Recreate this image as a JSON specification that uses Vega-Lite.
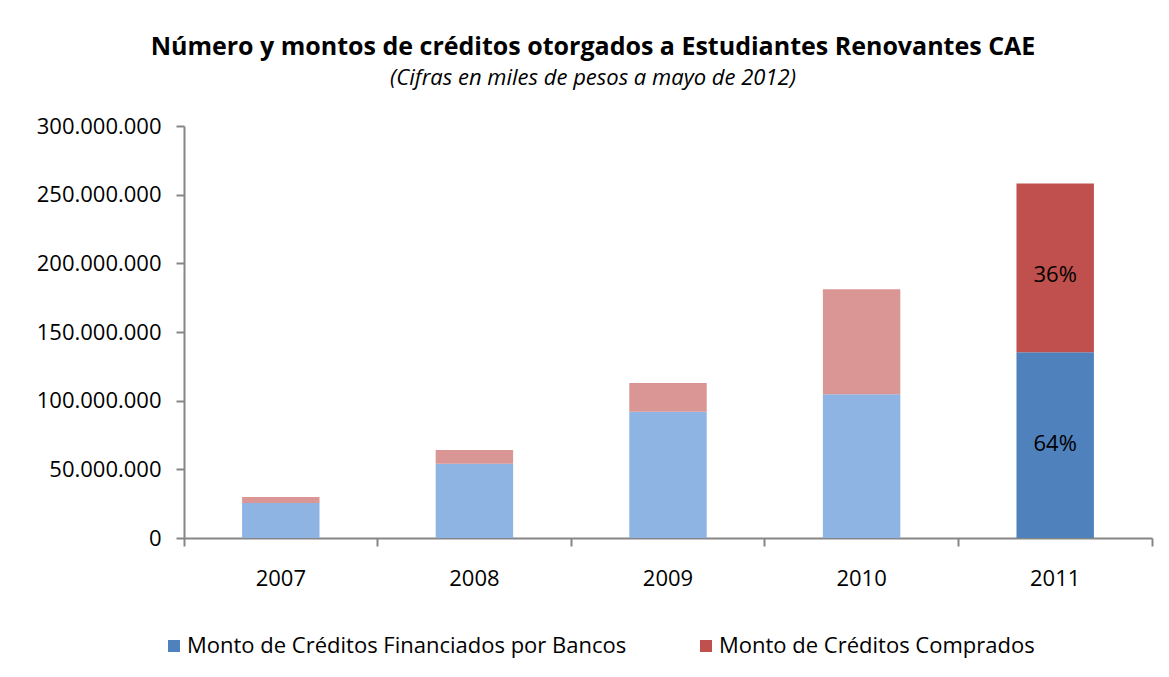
{
  "$schema": "https://vega.github.io/schema/vega-lite/v6.json",
  "width": 968,
  "height": 412,
  "autosize": {"type": "none"},
  "padding": {"left": 184, "top": 126, "right": 17, "bottom": 139},
  "background": "white",
  "config": {
    "font": "Open Sans",
    "view": {"stroke": null}
  },
  "title": {
    "text": "Número y montos de créditos otorgados a Estudiantes Renovantes CAE",
    "subtitle": "(Cifras en miles de pesos a mayo de 2012)",
    "anchor": "middle",
    "frame": "group",
    "dx": -75,
    "offset": 26,
    "font": "Open Sans",
    "fontSize": 25,
    "fontWeight": "bold",
    "color": "#000000",
    "subtitleFont": "Open Sans",
    "subtitleFontSize": 22,
    "subtitleFontStyle": "italic",
    "subtitleColor": "#000000",
    "subtitlePadding": 8
  },
  "data": {
    "values": [
      {"anio": "2007", "serie": "Monto de Créditos Financiados por Bancos", "grupo": "Bancos (claro)", "orden": 1, "monto": 25500000, "etiqueta": ""},
      {"anio": "2007", "serie": "Monto de Créditos Comprados", "grupo": "Comprados (claro)", "orden": 2, "monto": 4300000, "etiqueta": ""},
      {"anio": "2008", "serie": "Monto de Créditos Financiados por Bancos", "grupo": "Bancos (claro)", "orden": 1, "monto": 54000000, "etiqueta": ""},
      {"anio": "2008", "serie": "Monto de Créditos Comprados", "grupo": "Comprados (claro)", "orden": 2, "monto": 10000000, "etiqueta": ""},
      {"anio": "2009", "serie": "Monto de Créditos Financiados por Bancos", "grupo": "Bancos (claro)", "orden": 1, "monto": 91900000, "etiqueta": ""},
      {"anio": "2009", "serie": "Monto de Créditos Comprados", "grupo": "Comprados (claro)", "orden": 2, "monto": 20900000, "etiqueta": ""},
      {"anio": "2010", "serie": "Monto de Créditos Financiados por Bancos", "grupo": "Bancos (claro)", "orden": 1, "monto": 104700000, "etiqueta": ""},
      {"anio": "2010", "serie": "Monto de Créditos Comprados", "grupo": "Comprados (claro)", "orden": 2, "monto": 76400000, "etiqueta": ""},
      {"anio": "2011", "serie": "Monto de Créditos Financiados por Bancos", "grupo": "Monto de Créditos Financiados por Bancos", "orden": 1, "monto": 135300000, "etiqueta": "64%"},
      {"anio": "2011", "serie": "Monto de Créditos Comprados", "grupo": "Monto de Créditos Comprados", "orden": 2, "monto": 122900000, "etiqueta": "36%"}
    ]
  },
  "encoding": {
    "x": {
      "field": "anio",
      "type": "nominal",
      "scale": {"type": "band", "paddingInner": 0, "paddingOuter": 0},
      "axis": {
        "title": null,
        "bandPosition": 1,
        "tickExtra": true,
        "labelAngle": 0,
        "labelFont": "Open Sans",
        "labelFontSize": 22,
        "labelColor": "#000000",
        "labelPadding": 22,
        "tickSize": 8,
        "tickColor": "#868686",
        "tickWidth": 2,
        "domainColor": "#868686",
        "domainWidth": 2,
        "grid": false
      }
    },
    "y": {
      "field": "monto",
      "type": "quantitative",
      "stack": "zero",
      "scale": {"domain": [0, 300000000], "nice": false},
      "axis": {
        "title": null,
        "values": [0, 50000000, 100000000, 150000000, 200000000, 250000000, 300000000],
        "labelExpr": "replace(replace(format(datum.value, ',.0f'), ',', '.'), ',', '.')",
        "labelFont": "Open Sans",
        "labelFontSize": 22,
        "labelColor": "#000000",
        "labelPadding": 15,
        "tickSize": 8,
        "tickColor": "#868686",
        "tickWidth": 2,
        "domainColor": "#868686",
        "domainWidth": 2,
        "grid": false
      }
    },
    "order": {"field": "orden", "type": "quantitative"}
  },
  "layer": [
    {
      "mark": {"type": "bar", "width": {"band": 0.4}},
      "encoding": {
        "color": {
          "field": "grupo",
          "type": "nominal",
          "scale": {
            "domain": ["Monto de Créditos Financiados por Bancos", "Monto de Créditos Comprados", "Bancos (claro)", "Comprados (claro)"],
            "range": ["#4F81BD", "#C0504D", "#8EB4E3", "#D99694"]
          },
          "legend": {
            "title": null,
            "values": ["Monto de Créditos Financiados por Bancos", "Monto de Créditos Comprados"],
            "orient": "none",
            "direction": "horizontal",
            "legendX": -21,
            "legendY": 509,
            "symbolType": "square",
            "symbolSize": 144,
            "symbolStrokeWidth": 0,
            "labelFont": "Open Sans",
            "labelFontSize": 22,
            "labelColor": "#000000",
            "labelLimit": 600,
            "labelOffset": 2,
            "columnPadding": 68
          }
        }
      }
    },
    {
      "mark": {"type": "text", "baseline": "middle", "align": "center", "dy": 92, "font": "Open Sans", "fontSize": 22, "color": "#000000"},
      "encoding": {
        "detail": {"field": "serie", "type": "nominal"},
        "text": {"field": "etiqueta", "type": "nominal"}
      }
    }
  ]
}
